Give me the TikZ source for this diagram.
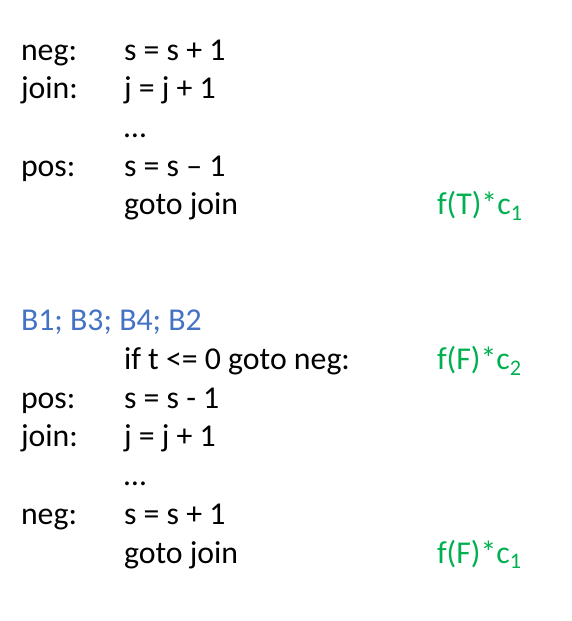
\documentclass[tikz,border=0pt]{standalone}
\usepackage{fontspec}
\setmainfont{Carlito}
\definecolor{codegreen}{HTML}{00B050}
\definecolor{codeblue}{HTML}{4472C4}
\begin{document}
\begin{tikzpicture}[x=1pt,y=-1pt,
  txt/.style={anchor=base west,inner sep=0pt,outer sep=0pt,font=\fontsize{31.8}{38}\selectfont},
  lbl/.style={txt,text=black},
  code/.style={txt,text=black},
  cost/.style={txt,text=codegreen},
  head/.style={txt,text=codeblue}]
\useasboundingbox (0,0) rectangle (572,621);
% top block
\node[lbl]  (l1) at (21,60)    {neg:};
\node[code] (c1) at (124,60)   {s = s + 1};
\node[lbl]  (l2) at (21,98.7)  {join:};
\node[code] (c2) at (124,98.7) {j = j + 1};
\node[code] (c3) at (124,137.4){\dots};
\node[lbl]  (l4) at (21,176)   {pos:};
\node[code] (c4) at (124,176)  {s = s – 1};
\node[code] (c5) at (124,214.8){goto join};
\node[cost] (g1) at (437,214.8){f(T)*c\textsubscript{1}};
% bottom block
\node[head] (h)  at (21,330.7) {B1; B3; B4; B2};
\node[code] (d1) at (124,369.4){if t <= 0 goto neg:};
\node[cost] (g2) at (437,369.4){f(F)*c\textsubscript{2}};
\node[lbl]  (m2) at (21,408)   {pos:};
\node[code] (d2) at (124,408)  {s = s - 1};
\node[lbl]  (m3) at (21,446.8) {join:};
\node[code] (d3) at (124,446.8){j = j + 1};
\node[code] (d4) at (124,485.5){\dots};
\node[lbl]  (m5) at (21,524)   {neg:};
\node[code] (d5) at (124,524)  {s = s + 1};
\node[code] (d6) at (124,563)  {goto join};
\node[cost] (g3) at (437,563)  {f(F)*c\textsubscript{1}};
\end{tikzpicture}
\end{document}
